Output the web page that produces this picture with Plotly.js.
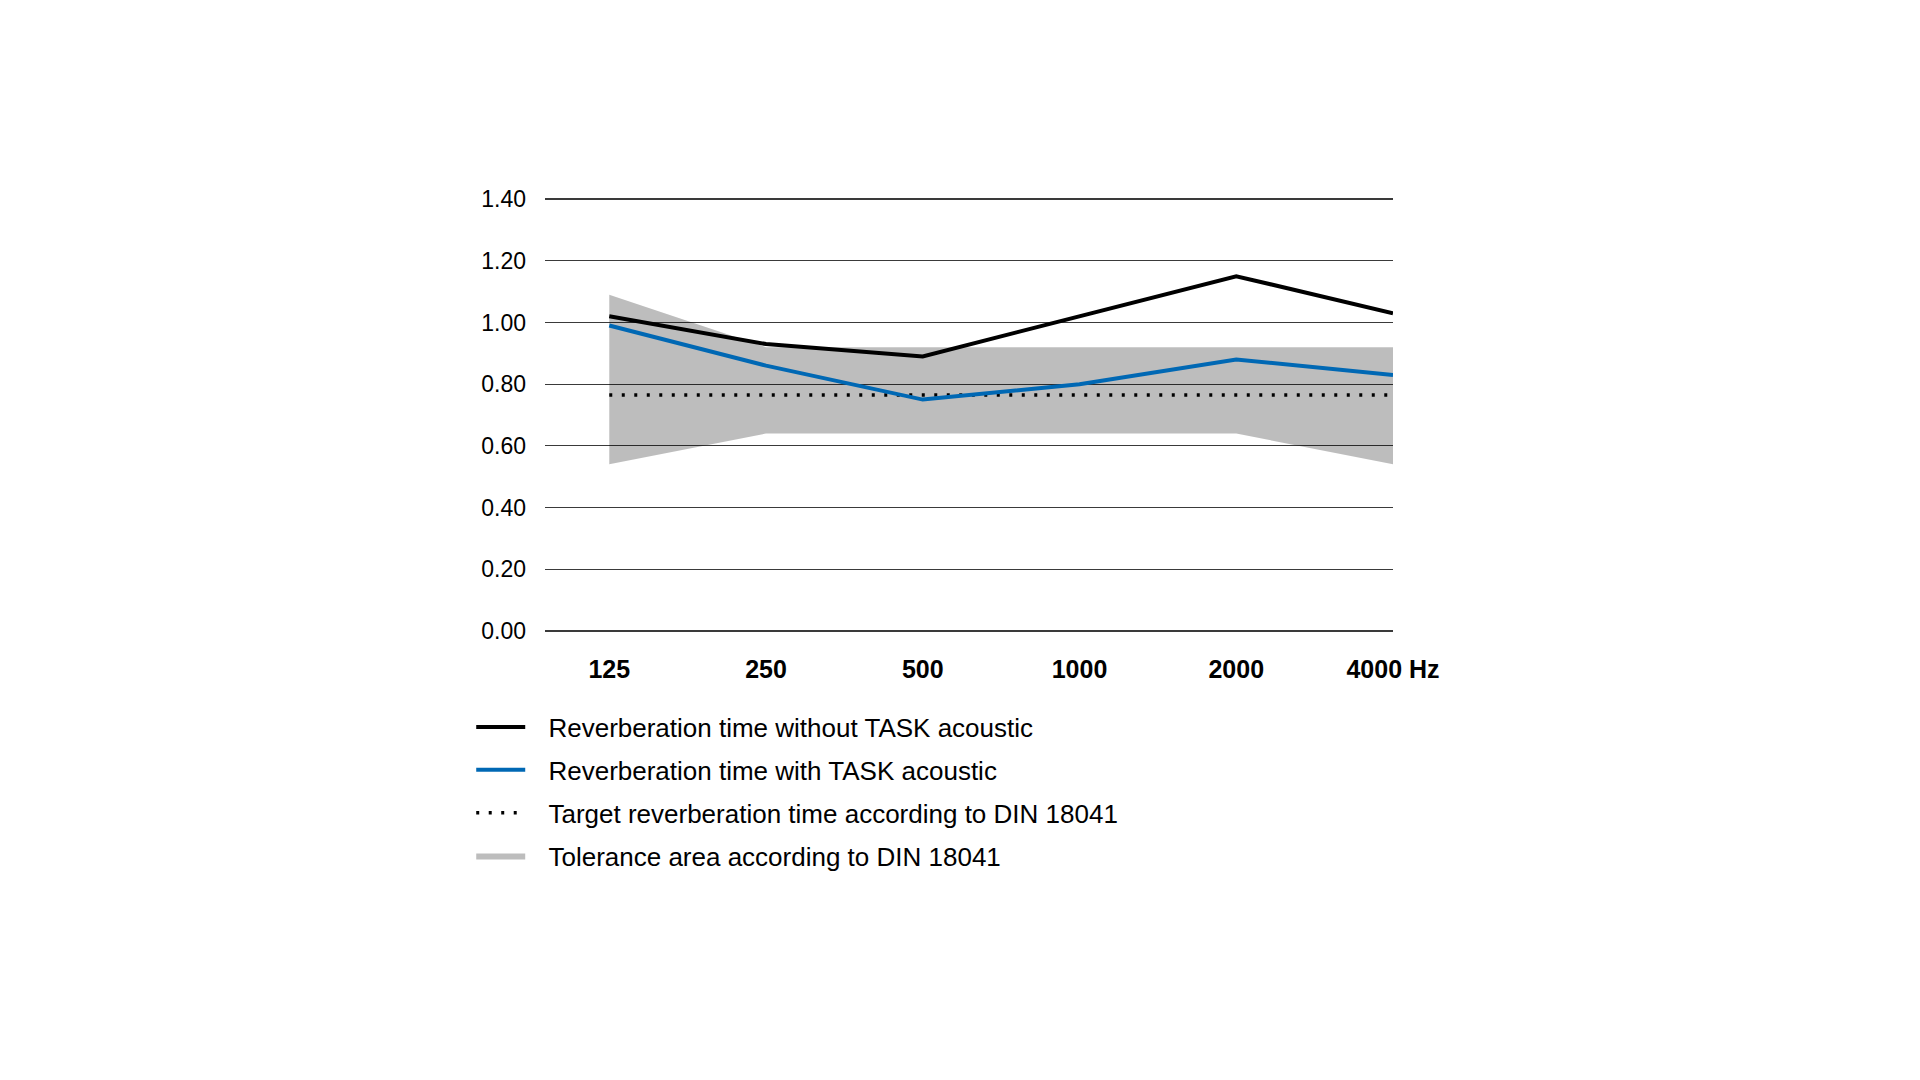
<!DOCTYPE html>
<html>
<head>
<meta charset="utf-8">
<script src="https://cdn.plot.ly/plotly-3.0.1.min.js"></script>
<style>
  html, body { margin: 0; padding: 0; background: #fff; }
  #chart { width: 1920px; height: 1080px; }
</style>
</head>
<body>
<div id="chart"></div>
<script>
// frequency bands (Hz)
var freqs = ['125', '250', '500', '1000', '2000', '4000']
var freqLabels = ['125', '250', '500', '1000', '2000', '4000 Hz']

// reverberation time in seconds
var withoutTask = [1.02, 0.93, 0.89, 1.02, 1.15, 1.03]
var withTask = [0.99, 0.86, 0.75, 0.80, 0.88, 0.83]
var target = [0.765, 0.765, 0.765, 0.765, 0.765, 0.765]

// tolerance band according to DIN 18041
var tolUpper = [1.09, 0.92, 0.92, 0.92, 0.92, 0.92]
var tolLower = [0.54, 0.64, 0.64, 0.64, 0.64, 0.54]

var yTicks = [0, 0.2, 0.4, 0.6, 0.8, 1.0, 1.2, 1.4]

var font = 'Liberation Sans, Arial, Helvetica, sans-serif'
// a little room between legend symbol and text
var pad = '\u2002\u2009'

// closed polygon: upper edge left->right, lower edge right->left
var bandX = freqs.concat(freqs.slice().reverse())
var bandY = tolUpper.concat(tolLower.slice().reverse())

var data = [
	{
		x: bandX,
		y: bandY,
		type: 'scatter',
		mode: 'lines',
		fill: 'toself',
		fillcolor: 'rgba(0,0,0,0.26)',
		line: {width: 0, color: 'rgba(0,0,0,0)'},
		name: pad + 'Tolerance area according to DIN 18041',
		legendgroup: 'd',
		legendrank: 4,
		hoverinfo: 'skip'
	},
	{
		x: freqs,
		y: target,
		type: 'scatter',
		mode: 'lines',
		line: {color: '#000', width: 3.5, dash: '3px,9.5px'},
		name: pad + 'Target reverberation time according to DIN 18041',
		legendgroup: 'c',
		legendrank: 3
	},
	{
		x: freqs,
		y: withTask,
		type: 'scatter',
		mode: 'lines',
		line: {color: '#0068b4', width: 4},
		name: pad + 'Reverberation time with TASK acoustic',
		legendgroup: 'b',
		legendrank: 2
	},
	{
		x: freqs,
		y: withoutTask,
		type: 'scatter',
		mode: 'lines',
		line: {color: '#000', width: 4},
		name: pad + 'Reverberation time without TASK acoustic',
		legendgroup: 'a',
		legendrank: 1
	}
];

var layout = {
	width: 1920,
	height: 1080,
	paper_bgcolor: '#fff',
	plot_bgcolor: '#fff',
	margin: {l: 545, r: 527, t: 196, b: 446, pad: 0},
	font: {family: font, color: '#000', size: 22},
	showlegend: true,
	legend: {
		x: -0.087,
		y: -0.159,
		xanchor: 'left',
		yanchor: 'top',
		traceorder: 'grouped',
		font: {family: font, size: 26, color: '#000'},
		itemwidth: 49,
		tracegroupgap: 6,
		bgcolor: 'rgba(0,0,0,0)'
	},
	xaxis: {
		type: 'category',
		range: [-0.41, 5],
		tickvals: freqs,
		ticktext: freqLabels,
		tickfont: {family: font, size: 25, weight: 'bold', color: '#000'},
		showgrid: false,
		zeroline: false,
		showline: false,
		ticks: '',
		ticklabelstandoff: 18,
		fixedrange: true
	},
	yaxis: {
		range: [-0.01, 1.41],
		tickvals: yTicks,
		tickformat: '.2f',
		tickfont: {family: font, size: 23, color: '#000'},
		showgrid: true,
		gridcolor: '#3a3a3a',
		gridwidth: 1.2,
		zeroline: false,
		showline: false,
		ticks: '',
		ticklabelstandoff: 18,
		fixedrange: true
	}
}

Plotly.newPlot('chart', data, layout, {displayModeBar: false, staticPlot: true});
</script>
</body>
</html>
